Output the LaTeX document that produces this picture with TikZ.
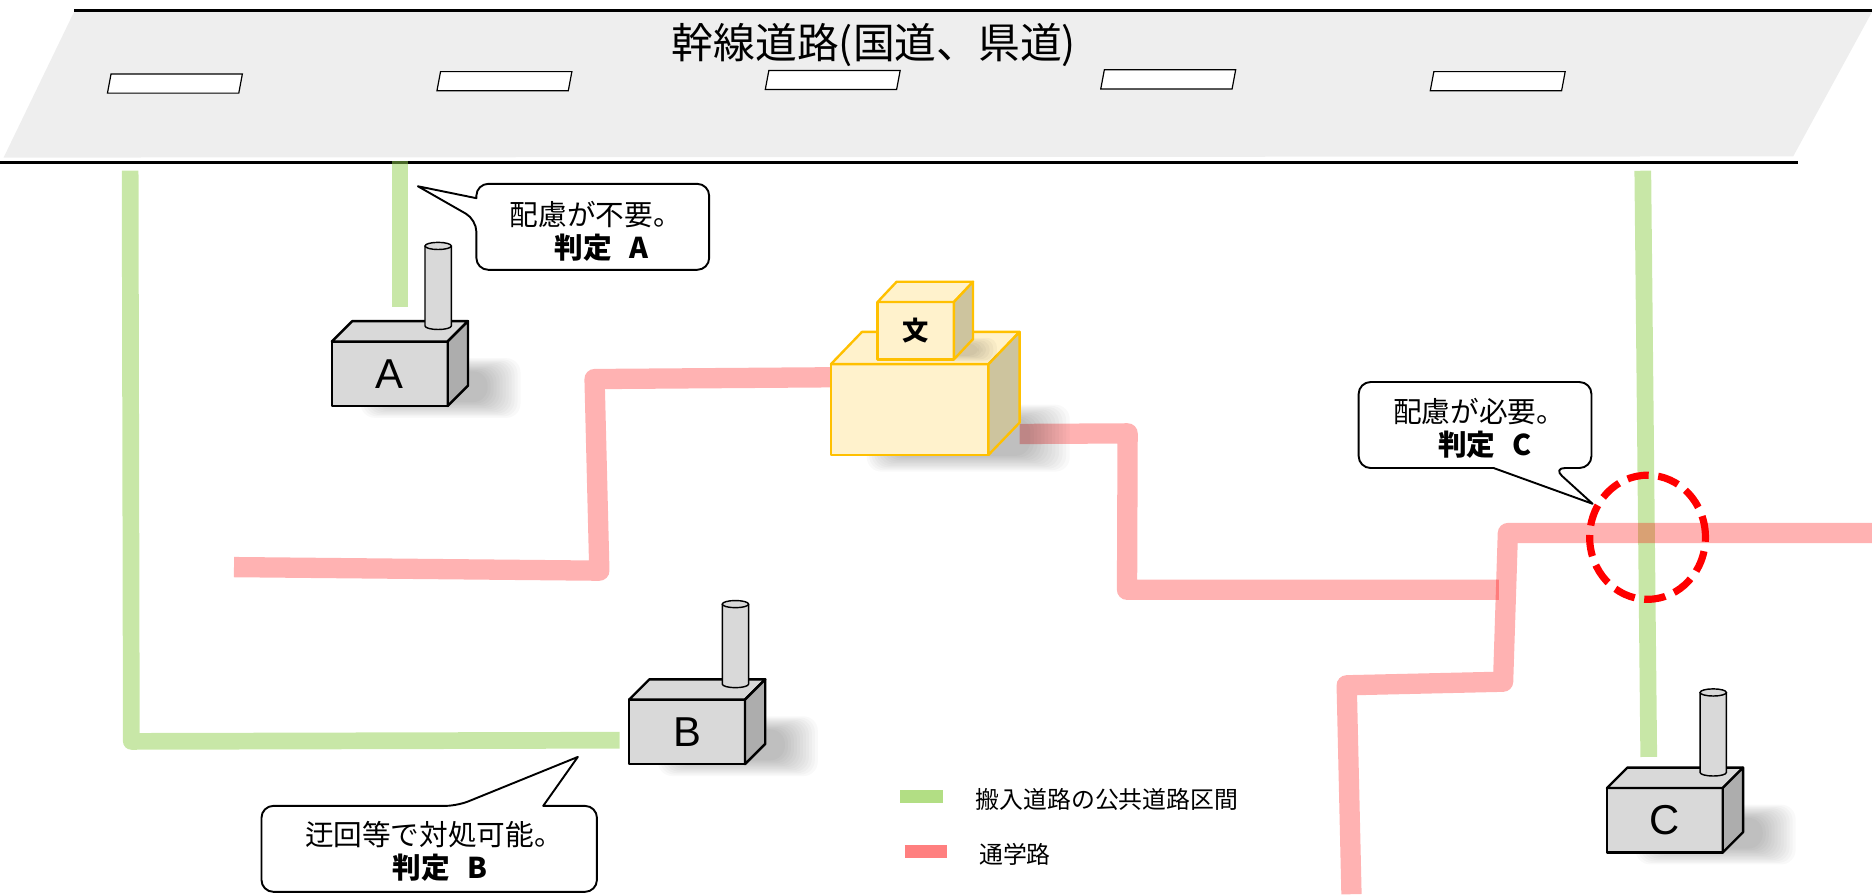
\documentclass[tikz,border=0pt]{standalone}
\usepackage{fontspec}
\setmainfont{Noto Sans CJK JP}
\newfontfamily\latinfont{Liberation Sans}
\usepackage{tikz}

\definecolor{roadgreen}{RGB}{146,208,80}
\definecolor{roadgray}{RGB}{238,238,238}
\definecolor{schoolfill}{RGB}{255,242,204}
\definecolor{schoolside}{RGB}{205,196,158}
\definecolor{schoolline}{RGB}{255,192,0}
\definecolor{plantfront}{RGB}{217,217,217}
\definecolor{plantside}{RGB}{173,173,173}

\begin{document}
\begin{tikzpicture}[x=1pt,y=-1pt,
    truck/.style={roadgreen,opacity=0.5,line width=14pt,line join=round},
    walk/.style={red,opacity=0.3,line width=17pt,line join=round},
    plant/.style={draw=black,line width=2pt,line join=round},
    school/.style={draw=schoolline,line width=2pt,line join=round},
    bubble/.style={draw=black,fill=white,line width=1.6pt,line join=round},
    note/.style={align=center,font=\fontsize{24}{28}\selectfont},
    key/.style={anchor=west,inner sep=0pt,font=\fontsize{20}{24}\selectfont}]

\useasboundingbox (0,0) rectangle (1568,749);

\fill[roadgray] (62,10) -- (1568,10) -- (1502,131) -- (3,132) -- cycle;
\draw[line width=2.5pt] (62,8.5) -- (1568,8.5);
\draw[line width=2.5pt] (0,136) -- (1506,136);
\foreach \x/\y in {90/62, 366/60, 641/59, 922/58.5, 1198/60}
  \draw[fill=white,line width=1pt] (\x,\y+16) -- (\x+3,\y) -- (\x+113,\y) -- (\x+110,\y+16) -- cycle;
\node[font=\fontsize{35}{40}\selectfont] (trunk) at (732,38) {幹線道路(国道、県道)};

\draw[truck] (109,143) -- (110,621) -- (519,620);
\draw[truck] (335,135) -- (335,257);
\draw[truck] (1376,143) -- (1381,634);

\draw[walk] (196,475) -- (502,478) -- (498,317.5) -- (697,316);
\draw[walk] (854,363.5) -- (944.5,363) -- (944,494) -- (1255.5,494);
\draw[walk] (1132,749) -- (1128,574) -- (1259,571) -- (1263,446.5) -- (1568,446.5);

\draw[red,line width=6pt,dash pattern=on 18pt off 8pt] (1380,450) ellipse [x radius=48.5pt,y radius=52pt];

\foreach \x/\y/\lbl in {278/286/A, 527/586/B, 1346/660/C}{
  \begin{scope}[shift={(\x,\y)}]
    \foreach \s in {0,...,11}
      \fill[black,opacity=0.022,rounded corners=12pt] (24+2*\s,14+\s) rectangle (158-2.5*\s,64-1.2*\s);
    \draw[plant,fill=plantfront] (0,0) rectangle (97,54);
    \draw[plant,fill=plantfront] (0,0) -- (17,-17) -- (114,-17) -- (97,0) -- cycle;
    \draw[plant,fill=plantside] (97,0) -- (114,-17) -- (114,37) -- (97,54) -- cycle;
    \draw[line width=1.2pt,fill=plantfront] (78,-80) -- (78,-13) arc[start angle=180,end angle=360,x radius=11pt,y radius=3pt] -- (100,-80);
    \draw[line width=1.2pt,fill=plantfront] (89,-80) ellipse [x radius=11pt,y radius=3pt];
    \node[font=\latinfont\fontsize{35}{40}\selectfont] (plant\lbl) at (48.5,27) {\lbl};
  \end{scope}}

\begin{scope}[shift={(696,305)}]
  \foreach \s in {0,...,11}
    \fill[black,opacity=0.025,rounded corners=12pt] (30+2*\s,34+\s) rectangle (200-3*\s,90-1.2*\s);
  \draw[school,fill=schoolfill] (0,0) rectangle (132,76);
  \draw[school,fill=schoolfill] (0,0) -- (26,-27) -- (158,-27) -- (132,0) -- cycle;
  \draw[school,fill=schoolside] (132,0) -- (158,-27) -- (158,49) -- (132,76) -- cycle;
\end{scope}
\begin{scope}[shift={(735,253)}]
  \foreach \s in {0,...,5}
    \fill[black,opacity=0.03,rounded corners=8pt] (20+2*\s,30+\s) rectangle (100-3*\s,50-\s);
  \draw[school,fill=schoolfill] (0,0) rectangle (64,48);
  \draw[school,fill=schoolfill] (0,0) -- (16,-17) -- (80,-17) -- (64,0) -- cycle;
  \draw[school,fill=schoolside] (64,0) -- (80,-17) -- (80,31) -- (64,48) -- cycle;
  \node[font=\bfseries\fontsize{22}{24}\selectfont] (school) at (32,24) {文};
\end{scope}

\draw[bubble] (399,184) -- (350,156) -- (399,166) [rounded corners=10pt] -- (399,154) -- (594,154) -- (594,226) -- (399,226) -- cycle;
\node[note] (noteA) at (499,194) {配慮が不要。\\\hspace*{0.4em}\bfseries 判定\hspace{0.6em}A};

\draw[bubble] (1301,392) -- (1334,422) -- (1251,392) [rounded corners=10pt] -- (1138,392) -- (1138,320) -- (1333,320) -- (1333,392) -- cycle;
\node[note] (noteC) at (1239,359) {配慮が必要。\\\hspace*{0.4em}\bfseries 判定\hspace{0.6em}C};

\draw[bubble] (383,675) -- (484,634) -- (455,675) [rounded corners=10pt] -- (500,675) -- (500,747) -- (219,747) -- (219,675) -- cycle;
\node[note] (noteB) at (363.5,713) {迂回等で対処可能。\\\hspace*{0.4em}\bfseries 判定\hspace{0.6em}B};

\draw[roadgreen,opacity=0.7,line width=11pt] (754,667) -- (790,667);
\node[key] (keytruck) at (817,670) {搬入道路の公共道路区間};
\draw[red,opacity=0.5,line width=11pt] (758,713.5) -- (793,713.5);
\node[key] (keywalk) at (820,716) {通学路};
\end{tikzpicture}
\end{document}
